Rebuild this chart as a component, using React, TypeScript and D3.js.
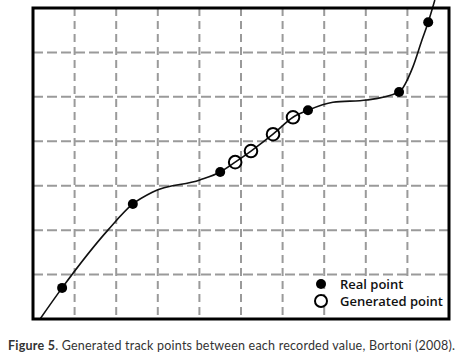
import * as React from "react";
import * as d3 from "d3";

// grid units: 10 columns x 7 rows
const colTicks = [1, 2, 3, 4, 5, 6, 7, 8, 9];
const rowTicks = [1, 2, 3, 4, 5, 6];

const realX = [0.7, 2.4, 4.5, 6.61, 8.8, 9.5];
const realY = [0.7, 2.59, 3.31, 4.7, 5.11, 6.68];

const genX = [4.86, 5.24, 5.77, 6.25];
const genY = [3.53, 3.78, 4.16, 4.54];

// the drawn track (passes through the points above)
const trackX = [0.17, 0.7, 1.8, 2.4, 2.88, 4.01, 4.5, 4.86, 5.24, 5.77, 6.25, 6.61, 7.21, 8.03, 8.8, 9.13, 9.35, 9.5, 9.66];
const trackY = [0, 0.7, 2.0, 2.59, 2.86, 3.13, 3.31, 3.53, 3.78, 4.16, 4.54, 4.7, 4.88, 4.93, 5.11, 5.67, 6.28, 6.68, 7.18];

const legendLabels = ["Real point", "Generated point"];

export default function App() {
    const x = d3.scaleLinear().domain([0, 10]).range([33, 449]);
    const y = d3.scaleLinear().domain([0, 7]).range([319, 8]);

    const line = d3.line<number>()
        .x((d, i) => x(trackX[i]))
        .y((d, i) => y(trackY[i]))
        .curve(d3.curveMonotoneX);

    const gridStyle = { stroke: "#9a9a9a", strokeWidth: 2 };

    return (
        <svg width={467} height={359} style={{ position: "absolute", left: 0, top: 0, background: "#fff" }}>
            <rect x={0} y={0} width={467} height={359} fill="#fff" />
            {colTicks.map(c => (
                <line key={"v" + c} x1={x(c)} x2={x(c)} y1={y(7)} y2={y(0)} {...gridStyle} strokeDasharray="8,5" />
            ))}
            {rowTicks.map(r => (
                <line key={"h" + r} x1={x(0)} x2={x(10)} y1={y(r)} y2={y(r)} {...gridStyle} strokeDasharray="10,4" />
            ))}
            <rect x={336} y={277} width={110} height={40} fill="#fff" />
            <path d={line(trackX) || ""} fill="none" stroke="#111" strokeWidth={1.6} />
            {realX.map((v, i) => (
                <circle key={"r" + i} cx={x(v)} cy={y(realY[i])} r={5} fill="#000" />
            ))}
            {genX.map((v, i) => (
                <circle key={"g" + i} cx={x(v)} cy={y(genY[i])} r={6.3} fill="none" stroke="#000" strokeWidth={2} />
            ))}
            <rect x={x(0)} y={y(7)} width={x(10) - x(0)} height={y(0) - y(7)} fill="none" stroke="#000" strokeWidth={3} />
            <circle cx={321} cy={284} r={5} fill="#000" />
            <circle cx={321} cy={301} r={6} fill="#fff" stroke="#000" strokeWidth={2} />
            <g fontFamily="'Open Sans', sans-serif" fontWeight={600} fontSize={13} fill="#111">
                <text x={340} y={288.5}>{legendLabels[0]}</text>
                <text x={340} y={305.5}>{legendLabels[1]}</text>
            </g>
            <text x={8} y={350} fontFamily="Lato, sans-serif" fontSize={12.5} fill="#333"
                textLength={447} lengthAdjust="spacing">
                <tspan fontWeight="bold">Figure 5</tspan>
                <tspan>. Generated track points between each recorded value, Bortoni (2008).</tspan>
            </text>
        </svg>
    );
}
